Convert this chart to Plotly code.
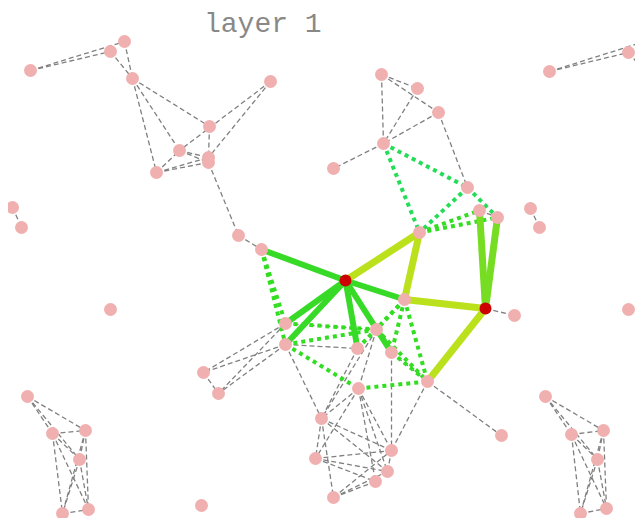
import plotly.graph_objects as go

# node positions (pixel-like layout coordinates)
node_names = ["a1","a2","a3","a4","a5","a6","a7","a8","a9","a10","a11","a12","a13","a14",
              "a1r","a2r","a3r","a4r",
              "b1","b2","b3","b4","b5","b6","b7","b8","b9","b10","b11",
              "r1","r2",
              "c1","c2","c3","c4","c5","c6","c7","c8","c9","c10","c11","c12","c13","c14",
              "d1","d2","d3","d4","d5","d6",
              "e1","e2","e3","e4","e5","e6","e7",
              "e1r","e2r","e3r","e4r","e5r","e6r",
              "t1","t2"]
node_x = [30,110,124,132,209,270,179,208,208,156,12,21,238,261,
          549,628,641,650,
          381,417,438,383,333,467,479,497,419,530,539,
          345,485,
          404,514,285,285,376,357,391,427,358,110,628,203,218,501,
          321,315,391,387,375,333,
          27,52,85,79,62,88,201,
          545,571,603,597,580,606,
          62,580]
node_y = [70,51,41,78,126,81,150,157,162,172,207,227,235,249,
          71,52,42,78,
          74,88,112,143,168,187,210,217,232,208,227,
          280,308,
          299,315,323,344,329,348,352,381,388,309,309,372,393,435,
          418,458,450,471,481,497,
          396,433,430,459,513,509,505,
          396,434,430,459,513,508,
          -2,-2]
red_nodes = ["r1", "r2"]

# edges by style
gray_edges = [("a1","a2"),("a1","a3"),("a2","a4"),("a3","a4"),("a4","a5"),("a4","a10"),("a4","a7"),
              ("a6","a7"),("a6","a8"),("a5","a8"),("a7","a8"),("a7","a9"),("a10","a7"),("a10","a8"),
              ("a10","a9"),("a9","a13"),("a13","a14"),("a11","a12"),
              ("a1r","a2r"),("a1r","a3r"),("a2r","a4r"),("a3r","a4r"),
              ("b1","b2"),("b1","b3"),("b1","b4"),("b2","b4"),("b3","b4"),("b3","b6"),("b4","b5"),
              ("b7","b8"),("b10","b11"),("r2","c2"),("c8","c14"),
              ("c3","c12"),("c3","c13"),("c4","c12"),("c4","c13"),("c12","c13"),
              ("c3","c5"),("c4","c6"),("c7","c8"),("c4","d1"),("c6","d1"),("c5","d1"),
              ("c9","d1"),("c9","d2"),("c9","d3"),("c9","d4"),("c9","d5"),("c7","d3"),("c8","d3"),
              ("c5","c9"),
              ("d1","d2"),("d1","d3"),("d1","d4"),("d1","d6"),("d2","d3"),("d2","d4"),("d2","d5"),
              ("d6","d3"),("d6","d4"),("d6","d5"),("d3","d4"),
              ("e1","e2"),("e1","e3"),("e1","e4"),("e2","e3"),("e2","e4"),("e2","e5"),("e2","e6"),
              ("e3","e4"),("e3","e6"),("e3","e5"),("e4","e5"),("e4","e6"),("e5","e6"),
              ("e1r","e2r"),("e1r","e3r"),("e1r","e4r"),("e2r","e3r"),("e2r","e4r"),("e2r","e5r"),
              ("e2r","e6r"),("e3r","e4r"),("e3r","e6r"),("e3r","e5r"),("e4r","e5r"),("e4r","e6r"),
              ("e5r","e6r")]
teal_dotted_edges = [("b4","b6"),("b4","b9"),("b6","b9"),("b6","b8")]
green_dotted_edges = [("b9","b7"),("b9","b8"),("a14","c3"),("a14","c4"),("c3","c5"),("c4","c5"),
                      ("c4","c9"),("c9","c8"),("c1","c8"),("c1","c7"),("c1","c5"),("c1","c6"),
                      ("c5","c8"),("c7","c8")]
green_solid_edges = [("r1","a14"),("r1","c3"),("r1","c4"),("r1","c6"),("r1","c7"),("r1","c1")]
yellow_solid_edges = [("r1","b9"),("b9","c1"),("c1","r2"),("r2","c8")]
lime_solid_edges = [("r2","b7"),("r2","b8")]

pos = {n: (x, y) for n, x, y in zip(node_names, node_x, node_y)}

def edge_xy(edges):
    xs, ys = [], []
    for a, b in edges:
        xs += [pos[a][0], pos[b][0], None]
        ys += [pos[a][1], pos[b][1], None]
    return xs, ys

fig = go.Figure()

def add_edges(edges, color, width, dash):
    xs, ys = edge_xy(edges)
    fig.add_trace(go.Scatter(x=xs, y=ys, mode="lines", hoverinfo="skip",
                             line=dict(color=color, width=width, dash=dash)))

add_edges(gray_edges, "#808080", 1.3, "5px,3px")
add_edges(teal_dotted_edges, "#22dd55", 4, "4px,4px")
add_edges(green_dotted_edges, "#33dd22", 4, "4px,4px")
add_edges(green_solid_edges, "#38da28", 6, "solid")
add_edges(lime_solid_edges, "#77dd22", 7, "solid")
add_edges(yellow_solid_edges, "#bbe01c", 7, "solid")

pink = [n for n in node_names if n not in red_nodes]
fig.add_trace(go.Scatter(x=[pos[n][0] for n in pink], y=[pos[n][1] for n in pink],
                         mode="markers", text=pink, hoverinfo="text",
                         marker=dict(size=13, color="#f0b0b0", line=dict(width=0))))
fig.add_trace(go.Scatter(x=[pos[n][0] for n in red_nodes], y=[pos[n][1] for n in red_nodes],
                         mode="markers", text=red_nodes, hoverinfo="text",
                         marker=dict(size=12, color="#cc0000", line=dict(width=0))))

off = 7.5
fig.add_annotation(x=262, y=off, text="layer 1", showarrow=False, xanchor="center", yanchor="top",
                   borderpad=0,
                   font=dict(family="Liberation Mono, Courier New, monospace", size=28, color="#888888"))

fig.update_layout(width=643, height=518, margin=dict(l=0, r=0, t=0, b=0),
                  paper_bgcolor="white", plot_bgcolor="white", showlegend=False,
                  xaxis=dict(range=[off, 643 + off], visible=False, fixedrange=True),
                  yaxis=dict(range=[518 + off, off], visible=False, fixedrange=True))

fig.write_html("out.html")
